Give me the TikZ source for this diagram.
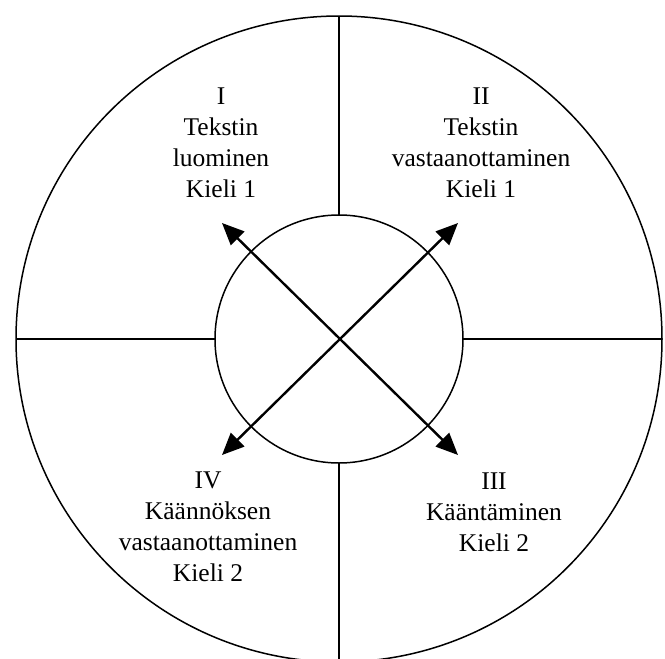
\documentclass[tikz,border=0pt]{standalone}
\usepackage{fontspec}
\setmainfont{Liberation Serif}
\usetikzlibrary{arrows.meta}
\begin{document}
\begin{tikzpicture}[x=1pt,y=-1pt,
  ring/.style={draw, circle, line width=1.5pt, inner sep=0pt, outer sep=0pt},
  divider/.style={line width=1.5pt},
  dirarrow/.style={line width=2.4pt, {Triangle[length=22pt,width=19pt]}-{Triangle[length=22pt,width=19pt]}},
  quadlabel/.style={align=center, font=\fontsize{25.5}{31}\selectfont, inner sep=0pt}
]
\useasboundingbox (0,0) rectangle (665,659);
\clip (0,0) rectangle (665,659);
\node[ring, minimum size=646pt] (outer) at (339,339) {};
\node[ring, minimum size=248pt] (inner) at (339,339) {};
\draw[divider] (inner.north) -- (outer.north);
\draw[divider] (inner.south) -- (outer.south);
\draw[divider] (inner.west) -- (outer.west);
\draw[divider] (inner.east) -- (outer.east);
\coordinate (tl) at (222,223);
\coordinate (tr) at (458,223);
\coordinate (bl) at (222,455);
\coordinate (br) at (458,455);
\draw[dirarrow] (tl) -- (br);
\draw[dirarrow] (tr) -- (bl);
\node[quadlabel] (q1) at (221,143) {I\\Tekstin\\luominen\\Kieli 1};
\node[quadlabel] (q2) at (481,143) {II\\Tekstin\\vastaanottaminen\\Kieli 1};
\node[quadlabel] (q3) at (494,512) {III\\Kääntäminen\\Kieli 2};
\node[quadlabel] (q4) at (208,527) {IV\\Käännöksen\\vastaanottaminen\\Kieli 2};
\end{tikzpicture}
\end{document}
